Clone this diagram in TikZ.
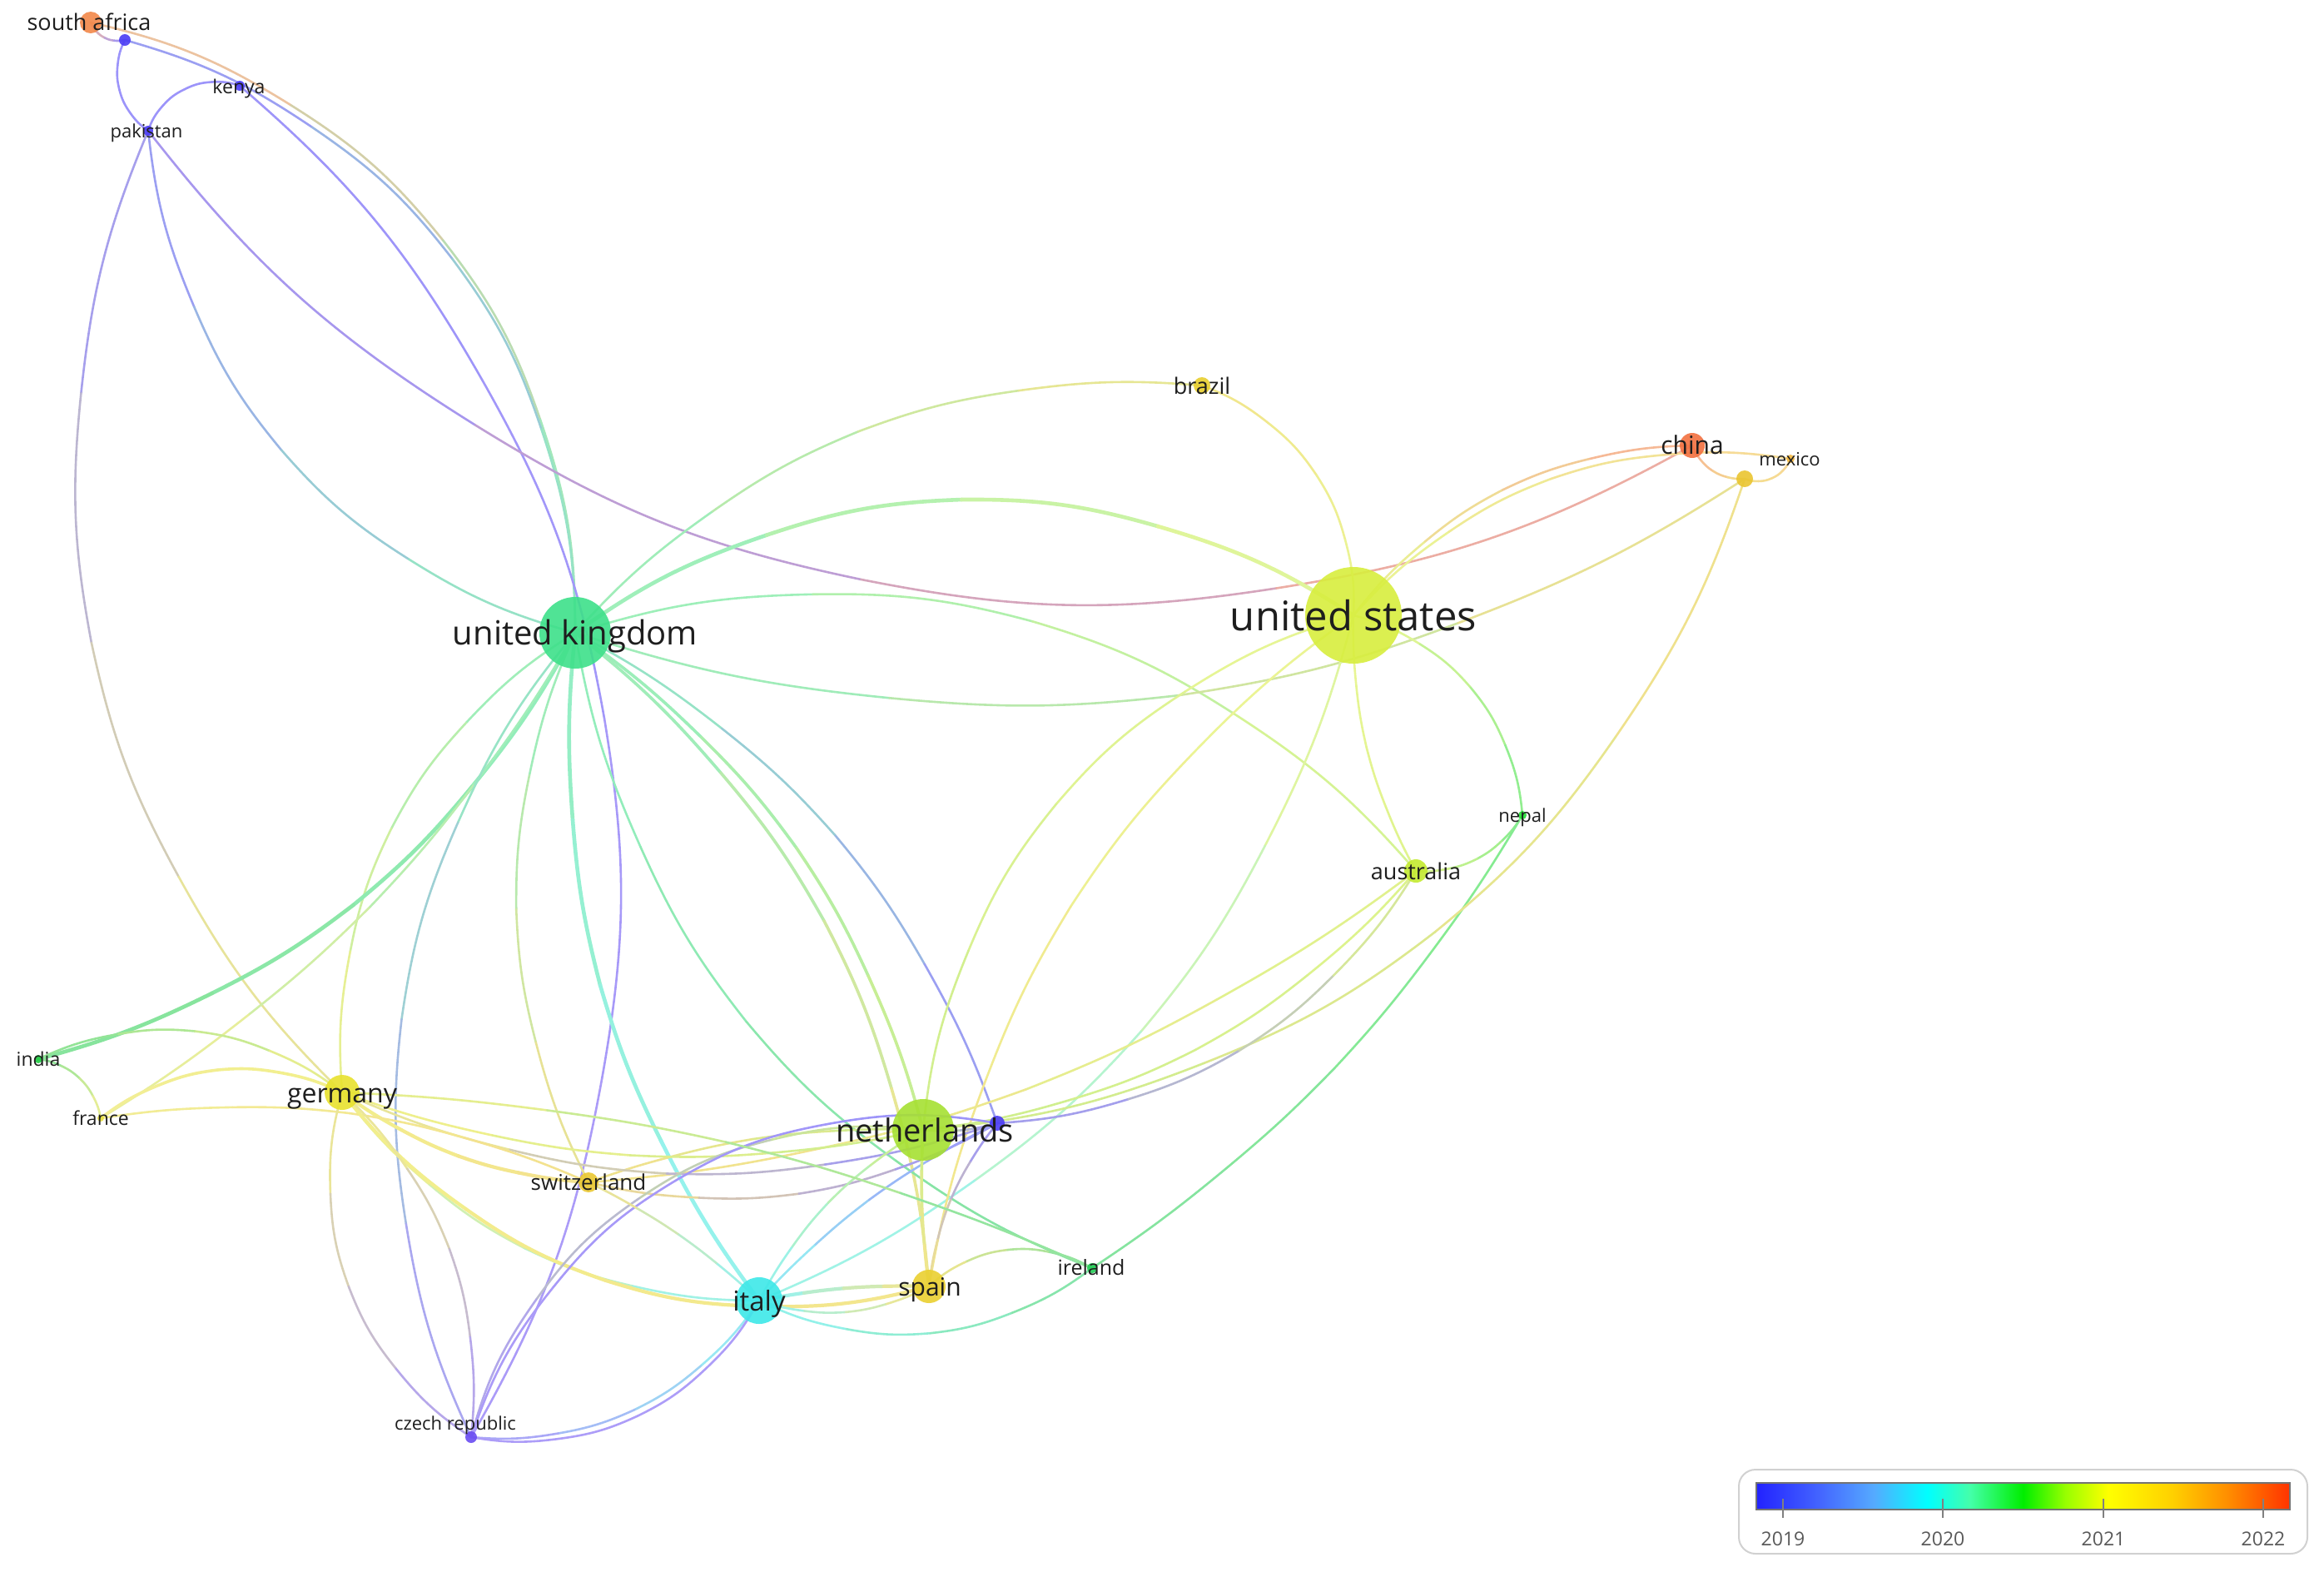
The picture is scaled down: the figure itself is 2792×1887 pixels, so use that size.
\documentclass[tikz,border=0pt]{standalone}
\usepackage{fontspec}
\setmainfont{Open Sans}
\definecolor{csa}{HTML}{F2884A}
\definecolor{cs2}{HTML}{4B3CF5}
\definecolor{cke}{HTML}{4B3CF5}
\definecolor{cpk}{HTML}{4B3CF5}
\definecolor{cn2}{HTML}{4B3CF5}
\definecolor{ccz}{HTML}{6A4CF2}
\definecolor{cuk}{HTML}{3EE08A}
\definecolor{cus}{HTML}{D8EE3E}
\definecolor{cbr}{HTML}{E8CF2E}
\definecolor{ccn}{HTML}{F27040}
\definecolor{cmx}{HTML}{F2B640}
\definecolor{cm2}{HTML}{EAC530}
\definecolor{cnp}{HTML}{22DD33}
\definecolor{cau}{HTML}{C4EA30}
\definecolor{cnl}{HTML}{A6E032}
\definecolor{cde}{HTML}{E8E22E}
\definecolor{cind}{HTML}{22CC44}
\definecolor{cfr}{HTML}{E8E040}
\definecolor{cch}{HTML}{EAC832}
\definecolor{cit}{HTML}{3EE8E8}
\definecolor{ces}{HTML}{EAD030}
\definecolor{cie}{HTML}{22CC55}
\definecolor{ctxt}{HTML}{1E1E1E}
\definecolor{lga}{HTML}{2222FF}
\definecolor{lgb}{HTML}{4466FF}
\definecolor{lgc}{HTML}{55AAFF}
\definecolor{lgd}{HTML}{00FFFF}
\definecolor{lge}{HTML}{44FFAA}
\definecolor{lgf}{HTML}{00EE00}
\definecolor{lgg}{HTML}{99FF00}
\definecolor{lgh}{HTML}{FFFF00}
\definecolor{lgi}{HTML}{FFD000}
\definecolor{lgj}{HTML}{FF9000}
\definecolor{lgk}{HTML}{FF3300}
\pgfdeclarehorizontalshading{vosbar}{100bp}{color(0bp)=(lga); color(25bp)=(lga); color(31bp)=(lgb); color(36bp)=(lgc); color(41bp)=(lgd); color(45bp)=(lge); color(50bp)=(lgf); color(54bp)=(lgg); color(58bp)=(lgh); color(64bp)=(lgi); color(69bp)=(lgj); color(75bp)=(lgk); color(100bp)=(lgk)}
\tikzset{
  edge/.style={line width=1.3pt, line cap=round},
  dot/.style={circle, inner sep=0pt, draw=none, fill opacity=0.9},
  lbl/.style={text=ctxt, inner sep=0pt, anchor=base},
  leglbl/.style={text=black!65, inner sep=0pt, anchor=base, font=\fontsize{11.5}{12}\selectfont}
}
% edge drawn in four pieces, colour running from one end to the other
\newcommand\lk[5][]{%
  \path (#2) to[bend #4=#5] coordinate[pos=0.25] (qa) coordinate[pos=0.5] (qb) coordinate[pos=0.75] (qc) (#3);
  \pgfmathsetmacro\qang{#5/4}%
  \draw[edge,draw=c#2!88!c#3!55!white,#1] (#2) to[bend #4=\qang] (qa);
  \draw[edge,draw=c#2!63!c#3!55!white,#1] (qa) to[bend #4=\qang] (qb);
  \draw[edge,draw=c#2!38!c#3!55!white,#1] (qb) to[bend #4=\qang] (qc);
  \draw[edge,draw=c#2!13!c#3!55!white,#1] (qc) to[bend #4=\qang] (#3);
}
\begin{document}
\begin{tikzpicture}[x=0.5pt,y=-0.5pt]
\fill[white] (0,0) rectangle (2792,1887);
\path[use as bounding box] (0,0) rectangle (2792,1887);
% positions
\coordinate (sa) at (109,27);
\coordinate (s2) at (150,48);
\coordinate (ke) at (288,103);
\coordinate (pk) at (178,157);
\coordinate (uk) at (691,760);
\coordinate (us) at (1626,739);
\coordinate (br) at (1444,463);
\coordinate (cn) at (2033,535);
\coordinate (mx) at (2151,551);
\coordinate (m2) at (2096,575);
\coordinate (np) at (1829,979);
\coordinate (au) at (1701,1046);
\coordinate (nl) at (1109,1357);
\coordinate (n2) at (1198,1349);
\coordinate (de) at (411,1312);
\coordinate (ind) at (46,1272);
\coordinate (fr) at (121,1343);
\coordinate (ch) at (707,1420);
\coordinate (it) at (912,1562);
\coordinate (es) at (1116,1545);
\coordinate (ie) at (1312,1523);
\coordinate (cz) at (566,1726);
% edges
\lk{sa}{s2}{right}{40}
\lk{sa}{uk}{left}{38}
\lk{s2}{uk}{left}{36}
\lk{s2}{pk}{right}{40}
\lk{ke}{pk}{right}{45}
\lk{pk}{de}{right}{33}
\lk{pk}{uk}{right}{33}
\lk{ke}{cz}{left}{39}
\lk{pk}{cn}{right}{40}
\lk{uk}{br}{left}{25}
\lk[line width=2.3pt]{uk}{us}{left}{33}
\lk{uk}{au}{left}{32}
\lk{uk}{m2}{right}{24}
\lk{uk}{de}{right}{30}
\lk[line width=2.3pt]{uk}{ind}{left}{22}
\lk{fr}{uk}{right}{13}
\lk[line width=2.3pt]{uk}{it}{right}{20}
\lk{uk}{ch}{right}{24}
\lk{uk}{cz}{right}{31}
\lk[line width=1.8pt]{uk}{nl}{left}{19}
\lk[line width=1.8pt]{uk}{es}{left}{22}
\lk{uk}{n2}{left}{20}
\lk{uk}{ie}{right}{28}
\lk{br}{us}{left}{35}
\lk{us}{cn}{left}{24}
\lk{us}{mx}{left}{27}
\lk{cn}{m2}{right}{35}
\lk{m2}{mx}{right}{45}
\lk{us}{np}{left}{34}
\lk{np}{au}{left}{30}
\lk{us}{au}{right}{14}
\lk{us}{nl}{right}{33}
\lk{us}{it}{left}{25}
\lk{us}{es}{right}{21}
\lk{ie}{np}{right}{12}
\lk{nl}{n2}{right}{10}
\lk{m2}{nl}{left}{32}
\lk{n2}{au}{right}{26}
\lk{au}{nl}{left}{20}
\lk{au}{ch}{left}{15}
\lk{ch}{nl}{left}{10}
\lk{de}{nl}{right}{15}
\lk{ch}{n2}{right}{20}
\lk{de}{n2}{right}{20}
\lk[line width=2.1pt]{de}{ch}{right}{15}
\lk{fr}{ch}{left}{15}
\lk{de}{it}{right}{25}
\lk[line width=2.1pt]{de}{es}{right}{32}
\lk{de}{cz}{right}{35}
\lk{de}{cz}{left}{25}
\lk{it}{cz}{left}{29}
\lk[draw=ccz!55!white]{it}{cz}{left}{34}
\lk{nl}{cz}{right}{40}
\lk{n2}{cz}{right}{40}
\lk[line width=2.1pt]{it}{es}{left}{6}
\lk{it}{es}{right}{22}
\lk{it}{ie}{right}{30}
\lk{es}{ie}{left}{35}
\lk{ch}{it}{left}{8}
\lk{it}{nl}{left}{15}
\lk{it}{n2}{left}{10}
\lk[line width=1.8pt]{nl}{es}{right}{5}
\lk{n2}{es}{right}{15}
\lk{ind}{de}{left}{30}
\lk{ind}{fr}{left}{35}
\lk[line width=1.8pt]{fr}{de}{left}{30}
\lk{de}{ie}{left}{10}
% nodes
\node[dot, fill=csa, minimum size=13pt] (sad) at (sa) {};
\node[dot, fill=cs2, minimum size=7pt] (s2d) at (s2) {};
\node[dot, fill=cke, minimum size=6pt] (ked) at (ke) {};
\node[dot, fill=cpk, minimum size=6pt] (pkd) at (pk) {};
\node[dot, fill=cuk, minimum size=43pt] (ukd) at (uk) {};
\node[dot, fill=cus, minimum size=58pt] (usd) at (us) {};
\node[dot, fill=cbr, minimum size=10pt] (brd) at (br) {};
\node[dot, fill=ccn, minimum size=15pt] (cnd) at (cn) {};
\node[dot, fill=cmx, minimum size=5pt] (mxd) at (mx) {};
\node[dot, fill=cm2, minimum size=10pt] (m2d) at (m2) {};
\node[dot, fill=cnp, minimum size=5pt] (npd) at (np) {};
\node[dot, fill=cau, minimum size=14pt] (aud) at (au) {};
\node[dot, fill=cnl, minimum size=37pt] (nld) at (nl) {};
\node[dot, fill=cn2, minimum size=9pt] (n2d) at (n2) {};
\node[dot, fill=cde, minimum size=21pt] (ded) at (de) {};
\node[dot, fill=cind, minimum size=5pt] (indd) at (ind) {};
\node[dot, fill=cfr, minimum size=4pt] (frd) at (fr) {};
\node[dot, fill=cch, minimum size=12pt] (chd) at (ch) {};
\node[dot, fill=cit, minimum size=28pt] (itd) at (it) {};
\node[dot, fill=ces, minimum size=20pt] (esd) at (es) {};
\node[dot, fill=cie, minimum size=6pt] (ied) at (ie) {};
\node[dot, fill=ccz, minimum size=7pt] (czd) at (cz) {};
% labels
\node[lbl, font=\fontsize{13.5}{14}\selectfont] (sal) at (107,36) {south africa};
\node[lbl, font=\fontsize{11.5}{12}\selectfont] (kel) at (287,112) {kenya};
\node[lbl, font=\fontsize{11}{12}\selectfont] (pkl) at (176,165) {pakistan};
\node[lbl, font=\fontsize{20}{21}\selectfont] (ukl) at (691,774) {united kingdom};
\node[lbl, font=\fontsize{24.5}{26}\selectfont] (usl) at (1626,757) {united states};
\node[lbl, font=\fontsize{13.5}{14}\selectfont] (brl) at (1444,473) {brazil};
\node[lbl, font=\fontsize{15}{16}\selectfont] (cnl) at (2033,545) {china};
\node[lbl, font=\fontsize{11}{12}\selectfont] (mxl) at (2150,559) {mexico};
\node[lbl, font=\fontsize{11}{12}\selectfont] (npl) at (1829,987) {nepal};
\node[lbl, font=\fontsize{13.5}{14}\selectfont] (aul) at (1701,1056) {australia};
\node[lbl, font=\fontsize{19}{20}\selectfont] (nll) at (1111,1371) {netherlands};
\node[lbl, font=\fontsize{16}{17}\selectfont] (del) at (411,1324) {germany};
\node[lbl, font=\fontsize{11.5}{12}\selectfont] (indl) at (46,1280) {india};
\node[lbl, font=\fontsize{11.5}{12}\selectfont] (frl) at (121,1351) {france};
\node[lbl, font=\fontsize{13}{14}\selectfont] (chl) at (707,1429) {switzerland};
\node[lbl, font=\fontsize{16.5}{17}\selectfont] (itl) at (912,1574) {italy};
\node[lbl, font=\fontsize{15}{16}\selectfont] (esl) at (1117,1556) {spain};
\node[lbl, font=\fontsize{12.5}{13}\selectfont] (iel) at (1311,1531) {ireland};
\node[lbl, font=\fontsize{11}{12}\selectfont] (czl) at (547,1717) {czech republic};
% legend
\draw[draw=black!18, line width=1pt, fill=white, rounded corners=10pt] (2089,1765) rectangle (2772,1866);
\shade[shading=vosbar] (2110,1781) rectangle (2751,1813);
\draw[draw=black!55, line width=0.7pt] (2110,1781) rectangle (2751,1813);
\foreach \tx in {2142,2334,2527,2719} \draw[black!50, line width=1pt] (\tx,1800) -- (\tx,1823);
\node[leglbl] (y19) at (2142,1856) {2019};
\node[leglbl] (y20) at (2334,1856) {2020};
\node[leglbl] (y21) at (2527,1856) {2021};
\node[leglbl] (y22) at (2719,1856) {2022};
\end{tikzpicture}
\end{document}
